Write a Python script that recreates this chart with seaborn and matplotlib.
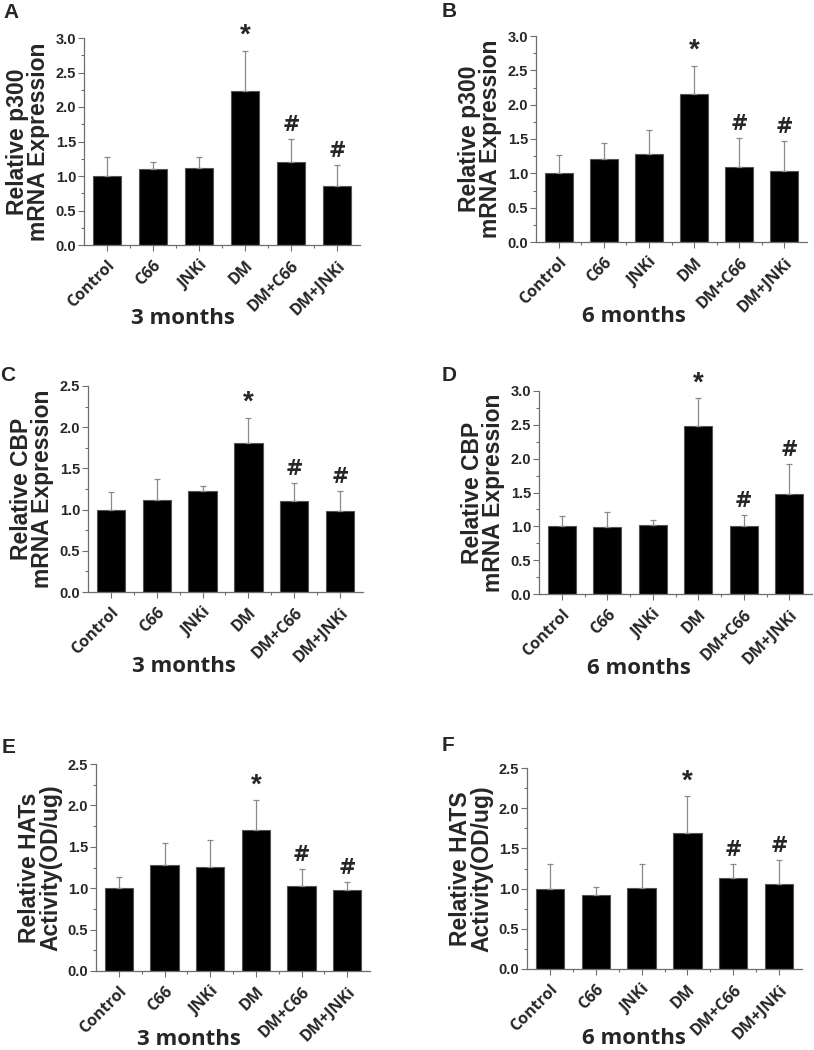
import matplotlib
matplotlib.use("Agg")
import matplotlib.pyplot as plt
import seaborn as sns
import pandas as pd
from matplotlib.ticker import MultipleLocator, FixedLocator

groups = ["Control", "C66", "JNKi", "DM", "DM+C66", "DM+JNKi"]
marks = ["", "", "", "*", "#", "#"]

# panel A: p300 mRNA, 3 months
p300_3m = [1.00, 1.10, 1.12, 2.23, 1.21, 0.85]
p300_3m_err = [0.27, 0.11, 0.16, 0.58, 0.33, 0.31]
# panel B: p300 mRNA, 6 months
p300_6m = [1.00, 1.21, 1.28, 2.16, 1.09, 1.03]
p300_6m_err = [0.27, 0.23, 0.35, 0.41, 0.42, 0.44]
# panel C: CBP mRNA, 3 months
cbp_3m = [1.00, 1.12, 1.23, 1.81, 1.10, 0.98]
cbp_3m_err = [0.21, 0.25, 0.06, 0.30, 0.22, 0.25]
# panel D: CBP mRNA, 6 months
cbp_6m = [1.01, 0.99, 1.02, 2.49, 1.01, 1.48]
cbp_6m_err = [0.14, 0.22, 0.07, 0.40, 0.16, 0.44]
# panel E: HATs activity, 3 months
hats_3m = [1.00, 1.28, 1.26, 1.70, 1.03, 0.98]
hats_3m_err = [0.14, 0.26, 0.32, 0.36, 0.20, 0.09]
# panel F: HATs activity, 6 months
hats_6m = [1.00, 0.92, 1.01, 1.69, 1.13, 1.06]
hats_6m_err = [0.30, 0.10, 0.29, 0.46, 0.17, 0.30]

W, H = 814, 1050
GRAY = "#6e6e6e"

sns.set_style("ticks")
plt.rcParams["font.family"] = ["Liberation Sans", "DejaVu Sans"]

fig = plt.figure(figsize=(W / 100, H / 100), dpi=100)


def draw_panel(left, right, top, bottom, vals, errs, ymax, ylabel, xlabel,
               label_x, label_gap):
    ax = fig.add_axes([left / W, 1 - bottom / H, (right - left) / W,
                       (bottom - top) / H])
    df = pd.DataFrame({"group": groups, "value": vals})
    sns.barplot(data=df, x="group", y="value", color="black", saturation=1,
                width=0.62, edgecolor="#555555", linewidth=0.8, ax=ax)
    x = list(range(len(groups)))
    ax.errorbar(x, vals, yerr=[[0] * len(errs), errs], fmt="none",
                ecolor="#8a8a8a", elinewidth=0.9, capsize=2.5, capthick=0.9)
    for i, m in enumerate(marks):
        if m == "*":
            ax.text(i, vals[i] + errs[i] + ymax * 0.01, m, ha="center",
                    va="bottom", fontsize=20, fontweight="bold",
                    family="Liberation Sans")
        elif m:
            ax.text(i, vals[i] + errs[i] + ymax * 0.02, m, ha="center",
                    va="bottom", fontsize=15, fontweight="bold",
                    family="DejaVu Sans")
    ax.set_xlim(-0.5, len(groups) - 0.5)
    ax.set_ylim(0, ymax)
    ax.yaxis.set_minor_locator(MultipleLocator(0.25))
    ax.xaxis.set_minor_locator(FixedLocator([i + 0.5 for i in range(len(groups) - 1)]))
    n = int(round(ymax / 0.5)) + 1
    ax.set_yticks([v * 0.5 for v in range(n)])
    ax.set_yticklabels([f"{v * 0.5:.1f}" for v in range(n)],
                       fontsize=10.5, fontweight="bold")
    ax.set_xticks(x)
    ax.set_xticklabels(groups, rotation=45, ha="right", rotation_mode="anchor",
                       fontsize=11.5, fontweight="bold", family="Open Sans")
    ax.tick_params(axis="both", which="major", length=4, width=0.8, color=GRAY)
    ax.tick_params(axis="both", which="minor", length=2, width=0.8, color=GRAY)
    ax.tick_params(axis="x", pad=5)
    ax.tick_params(axis="y", pad=1.5)
    sns.despine(ax=ax)
    for s in ("left", "bottom"):
        ax.spines[s].set_color(GRAY)
        ax.spines[s].set_linewidth(0.9)
    ax.set_ylabel(ylabel, fontsize=16.5, fontweight="bold", linespacing=0.9,
                  labelpad=4)
    ax.set_xlabel(xlabel, fontsize=16, fontweight="bold", family="Open Sans",
                  va="top")
    ax.xaxis.set_label_coords(label_x, -label_gap / (bottom - top))
    return ax


draw_panel(84, 360, 38, 245, p300_3m, p300_3m_err, 3.0,
           "Relative p300\nmRNA Expression", "3 months", 0.36, 63)
draw_panel(536, 807, 36, 242, p300_6m, p300_6m_err, 3.0,
           "Relative p300\nmRNA Expression", "6 months", 0.36, 64)
draw_panel(88, 363, 386, 592, cbp_3m, cbp_3m_err, 2.5,
           "Relative CBP\nmRNA Expression", "3 months", 0.35, 64)
draw_panel(539, 812, 391, 594, cbp_6m, cbp_6m_err, 3.0,
           "Relative CBP\nmRNA Expression", "6 months", 0.366, 64)
draw_panel(96, 370, 764, 971, hats_3m, hats_3m_err, 2.5,
           "Relative HATs\nActivity(OD/ug)", "3 months", 0.34, 58)
draw_panel(527, 802, 768, 969, hats_6m, hats_6m_err, 2.5,
           "Relative HATS\nActivity(OD/ug)", "6 months", 0.39, 59)

for letter, px, py in [("A", 3, 3), ("B", 442, 2), ("C", 0, 366),
                       ("D", 442, 366), ("E", 2, 738), ("F", 442, 736)]:
    fig.text(px / W, 1 - py / H, letter, ha="left", va="top", fontsize=15,
             fontweight="bold")

fig.savefig("out.png", dpi=100)
plt.close(fig)
